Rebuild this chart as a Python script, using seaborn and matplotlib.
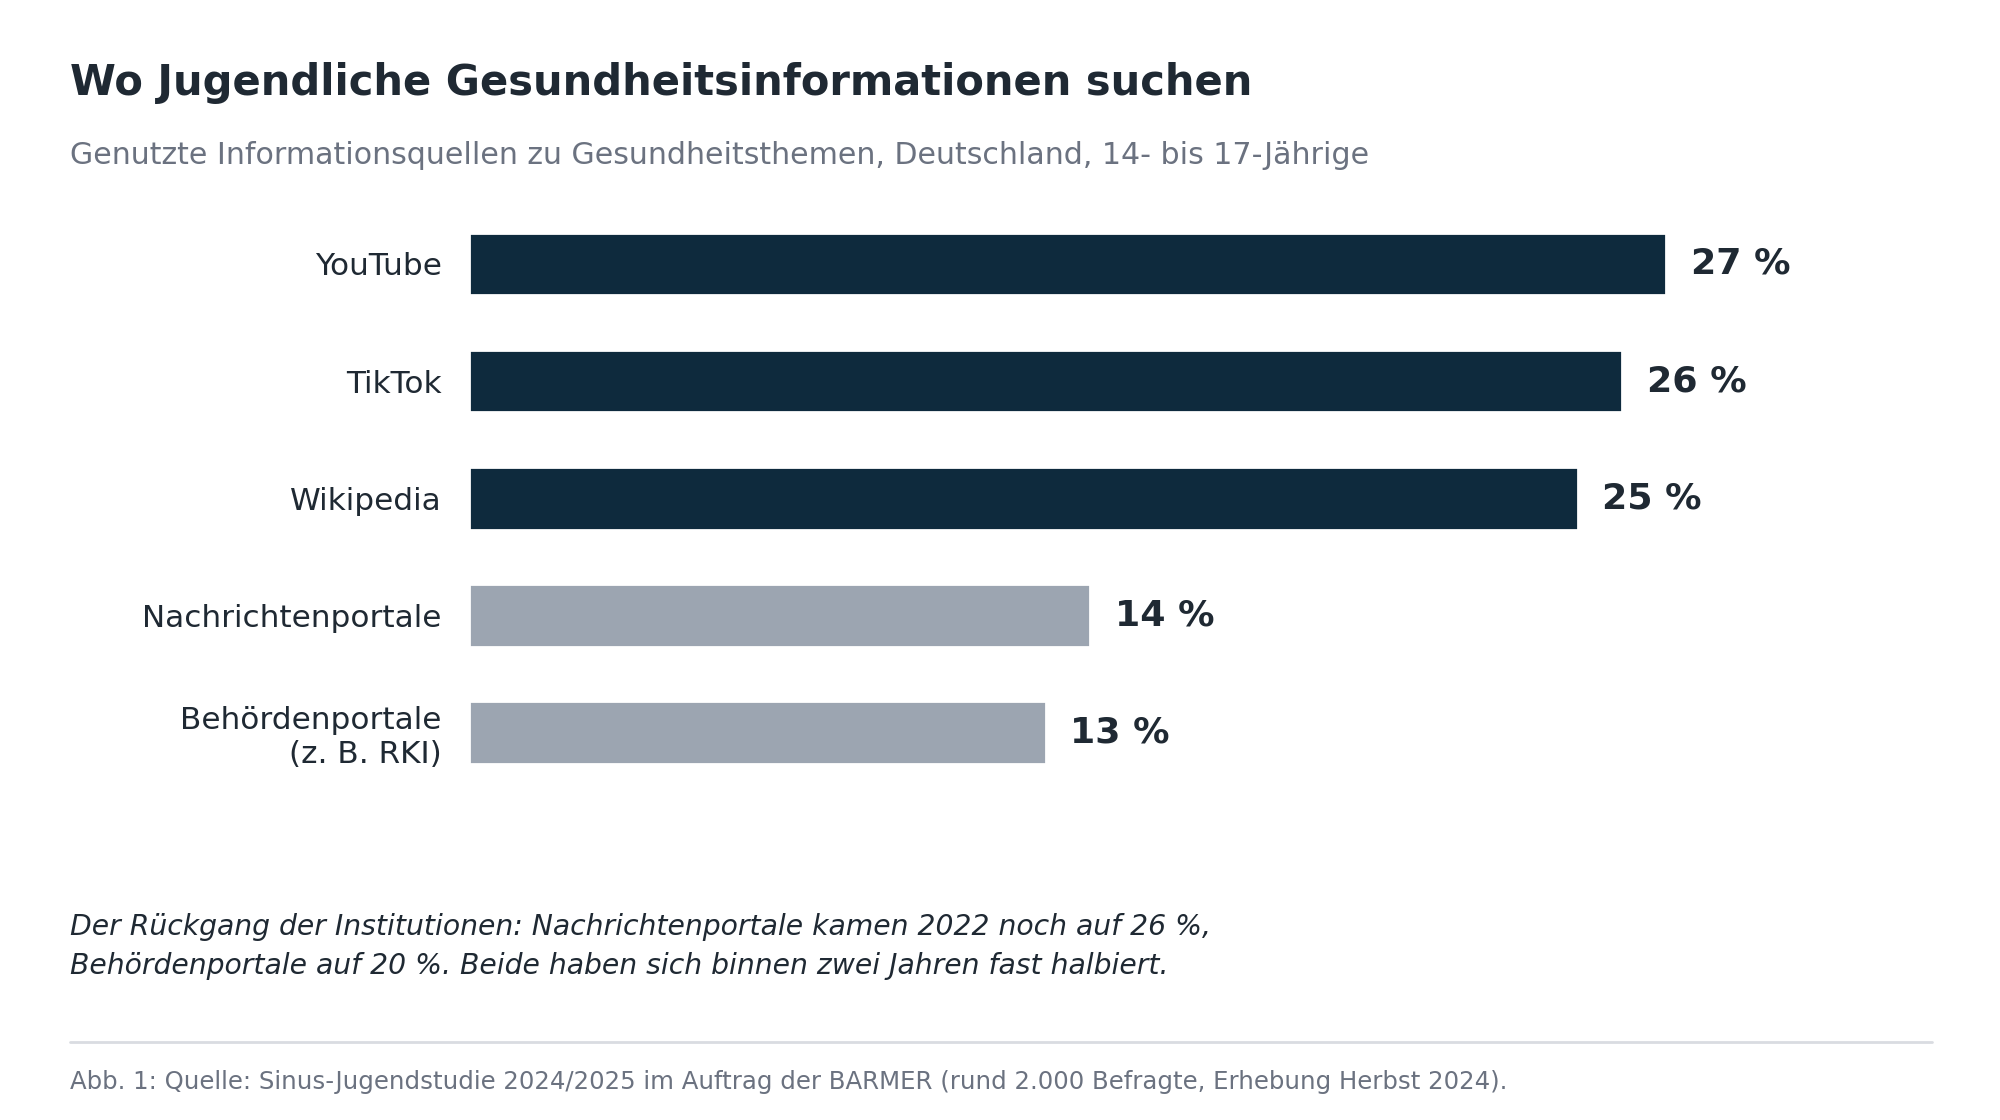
import matplotlib
matplotlib.use("Agg")
import matplotlib.pyplot as plt
import seaborn as sns
import pandas as pd

categories = ["YouTube", "TikTok", "Wikipedia", "Nachrichtenportale", "Behördenportale\n(z. B. RKI)"]
values = [27, 26, 25, 14, 13]
groups = ["Plattform", "Plattform", "Plattform", "Institution", "Institution"]
value_labels = ["27 %", "26 %", "25 %", "14 %", "13 %"]

title = "Wo Jugendliche Gesundheitsinformationen suchen"
subtitle = "Genutzte Informationsquellen zu Gesundheitsthemen, Deutschland, 14- bis 17-Jährige"
note = ("Der Rückgang der Institutionen: Nachrichtenportale kamen 2022 noch auf 26 %,\n"
        "Behördenportale auf 20 %. Beide haben sich binnen zwei Jahren fast halbiert.")
source = "Abb. 1: Quelle: Sinus-Jugendstudie 2024/2025 im Auftrag der BARMER (rund 2.000 Befragte, Erhebung Herbst 2024)."

NAVY = "#0e2a3d"
GRAY = "#9ca5b1"
TEXT = "#1f2933"
MUTED = "#6b7280"

sns.set_theme(style="white")
plt.rcParams["font.family"] = ["DejaVu Sans"]

df = pd.DataFrame({"cat": categories, "val": values, "grp": groups})

fig = plt.figure(figsize=(10, 5.6), dpi=200)
ax = fig.add_axes([0.2347, 0.2938, 0.7315, 0.5228])

sns.barplot(data=df, x="val", y="cat", hue="grp",
            palette={"Plattform": NAVY, "Institution": GRAY},
            dodge=False, legend=False, width=0.535, saturation=1, ax=ax)

ax.set_xlim(0, 33)
ax.set_ylim(4.5, -0.5)
ax.set_xlabel("")
ax.set_ylabel("")
ax.set_xticks([])
for s in ax.spines.values():
    s.set_visible(False)
ax.tick_params(axis="y", length=0, pad=10, labelsize=11.2, labelcolor=TEXT)

for i, (v, lab) in enumerate(zip(values, value_labels)):
    ax.annotate(lab, xy=(v, i), xytext=(8.9, 0), textcoords="offset points",
                ha="left", va="center", fontsize=13.1, fontweight="bold", color=TEXT)

fig.text(0.0351, 0.926, title, fontsize=15.0, fontweight="bold", color=TEXT, va="center", ha="left")
fig.text(0.0351, 0.861, subtitle, fontsize=10.8, color=MUTED, va="center", ha="left")
fig.text(0.0351, 0.155, note, fontsize=10.18, style="italic", color=TEXT, va="center", ha="left",
         linespacing=1.47)
fig.add_artist(plt.Line2D([0.0351, 0.966], [0.0695, 0.0695], transform=fig.transFigure,
                          color="#d9dce1", linewidth=1.0))
fig.text(0.0351, 0.034, source, fontsize=8.78, color=MUTED, va="center", ha="left")

fig.savefig("out.png", dpi=200, facecolor="white")
